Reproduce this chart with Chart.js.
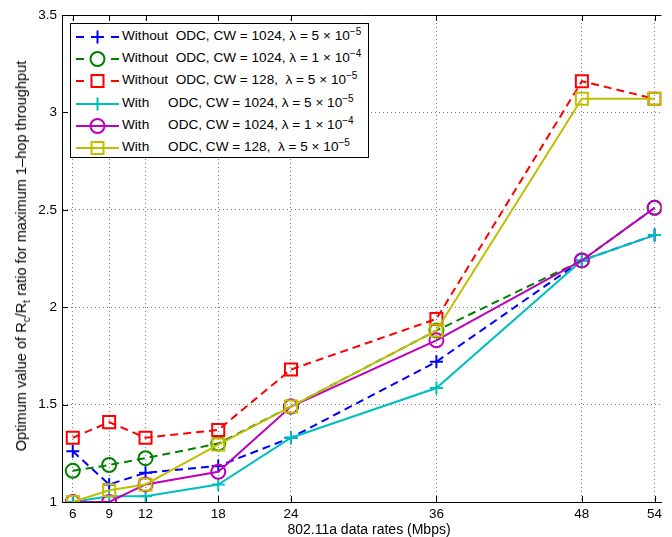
<!DOCTYPE html>
<html>
<head>
<meta charset="utf-8">
<script src="https://cdn.jsdelivr.net/npm/chart.js@4"></script>
<style>
  body { margin: 0; background: #fff; font-family: "Liberation Sans", Arial, sans-serif; }
  #wrap { position: relative; width: 672px; height: 537px; overflow: hidden; }
  #legend { position: absolute; left: 70px; top: 23px; width: 297px; height: 133px;
            border: 1px solid #000; background: #fff; font-size: 13.6px; color: #000; }
  .row { position: relative; height: 22.2px; white-space: pre; }
  .row svg { position: absolute; left: 5px; top: 2px; }
  .row span { position: absolute; left: 51px; top: 4px; }
  sup { font-size: 10px; vertical-align: 5px; line-height: 0; }
  sub { font-size: 10px; vertical-align: -4px; line-height: 0; }
  #ytitle { position: absolute; left: 21px; top: 256px; transform: translate(-50%, -50%) rotate(-90deg);
            white-space: nowrap; font-size: 14.6px; }
  #xtitle { position: absolute; left: 369px; top: 529px; transform: translate(-50%, -50%);
            white-space: nowrap; font-size: 14px; }
</style>
</head>
<body>
<div id="wrap">
  <canvas id="chart" width="672" height="537"></canvas>
  <div id="ytitle">Optimum value of R<sub>c</sub>/R<sub>t</sub> ratio for maximum 1&#8211;hop throughput</div>
  <div id="xtitle">802.11a data rates (Mbps)</div>
  <div id="legend"></div>
</div>
<script>
// data
const rates = [6, 9, 12, 18, 24, 36, 48, 54];
const yTicks = [1, 1.5, 2, 2.5, 3, 3.5];

const withoutCw1024L5 = [1.26, 1.09, 1.15, 1.185, 1.33, 1.72, 2.24, 2.37];
const withoutCw1024L4 = [1.16, 1.19, 1.225, 1.30, 1.49, 1.88, 2.24, 2.51];
const withoutCw128L5  = [1.33, 1.41, 1.33, 1.37, 1.68, 1.94, 3.16, 3.07];
const withCw1024L5    = [1.0, 1.03, 1.03, 1.09, 1.33, 1.585, 2.24, 2.37];
const withCw1024L4    = [1.0, 1.0, 1.09, 1.155, 1.49, 1.83, 2.24, 2.51];
const withCw128L5     = [1.0, 1.06, 1.09, 1.295, 1.49, 1.88, 3.07, 3.07];

const labels = [
  'Without  ODC, CW = 1024, \u03bb = 5 \u00d7 10<sup>\u22125</sup>',
  'Without  ODC, CW = 1024, \u03bb = 1 \u00d7 10<sup>\u22124</sup>',
  'Without  ODC, CW = 128,  \u03bb = 5 \u00d7 10<sup>\u22125</sup>',
  'With     ODC, CW = 1024, \u03bb = 5 \u00d7 10<sup>\u22125</sup>',
  'With     ODC, CW = 1024, \u03bb = 1 \u00d7 10<sup>\u22124</sup>',
  'With     ODC, CW = 128,  \u03bb = 5 \u00d7 10<sup>\u22125</sup>'
];

const series = [
  { values: withoutCw1024L5, color: '#0000ff', marker: 'cross',  dashed: true },
  { values: withoutCw1024L4, color: '#008000', marker: 'circle', dashed: true },
  { values: withoutCw128L5,  color: '#ff0000', marker: 'rect',   dashed: true },
  { values: withCw1024L5,    color: '#00bfbf', marker: 'cross',  dashed: false },
  { values: withCw1024L4,    color: '#bf00bf', marker: 'circle', dashed: false },
  { values: withCw128L5,     color: '#bfbf00', marker: 'rect',   dashed: false }
];

const markerRadius = { cross: 6.5, circle: 7, rect: 8.5 };

const datasets = series.map((s, i) => ({
  label: labels[i],
  data: rates.map((r, j) => ({ x: r, y: s.values[j] })),
  borderColor: s.color,
  backgroundColor: 'transparent',
  borderWidth: 2,
  borderDash: s.dashed ? [8, 5] : [],
  pointStyle: s.marker,
  pointRadius: markerRadius[s.marker],
  pointBorderWidth: 2,
  pointBorderColor: s.color,
  pointBackgroundColor: 'transparent',
  tension: 0,
  order: series.length - i   // later series on top, like matlab
}));

// inward tick marks + top box edge
const axisExtras = {
  id: 'axisExtras',
  beforeDatasetsDraw(chart) {
    const { ctx, chartArea: a, scales: { x, y } } = chart;
    ctx.save();
    ctx.strokeStyle = '#000';
    ctx.lineWidth = 1;
    ctx.beginPath();
    ctx.moveTo(a.left, a.top + 0.5);
    ctx.lineTo(a.right, a.top + 0.5);
    rates.forEach(r => {
      const px = Math.round(x.getPixelForValue(r)) + 0.5;
      ctx.moveTo(px, a.bottom); ctx.lineTo(px, a.bottom - 6);
      ctx.moveTo(px, a.top); ctx.lineTo(px, a.top + 6);
    });
    yTicks.forEach(v => {
      const py = Math.round(y.getPixelForValue(v)) + 0.5;
      ctx.moveTo(a.left, py); ctx.lineTo(a.left + 6, py);
    });
    ctx.stroke();
    ctx.restore();
  }
};

const tickFont = { family: '"Liberation Sans", Arial, sans-serif', size: 13.5 };

new Chart(document.getElementById('chart'), {
  type: 'line',
  data: { datasets },
  options: {
    responsive: false,
    animation: false,
    layout: { padding: { top: 15, right: 0, left: 0, bottom: 0 } },
    plugins: { legend: { display: false }, tooltip: { enabled: false } },
    scales: {
      x: {
        type: 'linear',
        min: 5.11,
        max: 54.57,
        afterBuildTicks: s => { s.ticks = rates.map(v => ({ value: v })); },
        afterFit: s => { s.height = 35; s.paddingLeft = 0; s.paddingRight = 0; },
        ticks: { font: tickFont, color: '#000', padding: 4, maxRotation: 0, autoSkip: false,
                 callback: v => String(v) },
        grid: { color: '#7a7a7a', drawTicks: false },
        border: { display: true, color: '#000', width: 1, dash: [1, 3] }
      },
      y: {
        min: 1,
        max: 3.5,
        afterBuildTicks: s => { s.ticks = yTicks.map(v => ({ value: v })); },
        afterFit: s => { s.width = 62; s.paddingTop = 0; s.paddingBottom = 0; },
        ticks: { font: tickFont, color: '#000', padding: 5, callback: v => String(v) },
        grid: { color: '#7a7a7a', drawTicks: false },
        border: { display: true, color: '#000', width: 1, dash: [1, 3] }
      }
    }
  },
  plugins: [axisExtras]
});

// legend with superscripts, built from the same series
const legend = document.getElementById('legend');
series.forEach((s, i) => {
  const c = s.color;
  let line = s.dashed
    ? `<line x1="0" y1="11" x2="8" y2="11" stroke="${c}" stroke-width="2"/><line x1="35" y1="11" x2="43" y2="11" stroke="${c}" stroke-width="2"/>`
    : `<line x1="0" y1="11" x2="43" y2="11" stroke="${c}" stroke-width="2"/>`;
  let mk = '';
  if (s.marker === 'cross') mk = `<path d="M21.5 4.5V17.5M15 11H28" stroke="${c}" stroke-width="2"/>`;
  if (s.marker === 'circle') mk = `<circle cx="21.5" cy="11" r="7" fill="none" stroke="${c}" stroke-width="2"/>`;
  if (s.marker === 'rect') mk = `<rect x="15.5" y="5" width="12" height="12" fill="none" stroke="${c}" stroke-width="2"/>`;
  const row = document.createElement('div');
  row.className = 'row';
  row.innerHTML = `<svg width="44" height="22">${line}${mk}</svg><span>${labels[i]}</span>`;
  legend.appendChild(row);
});
</script>
</body>
</html>
